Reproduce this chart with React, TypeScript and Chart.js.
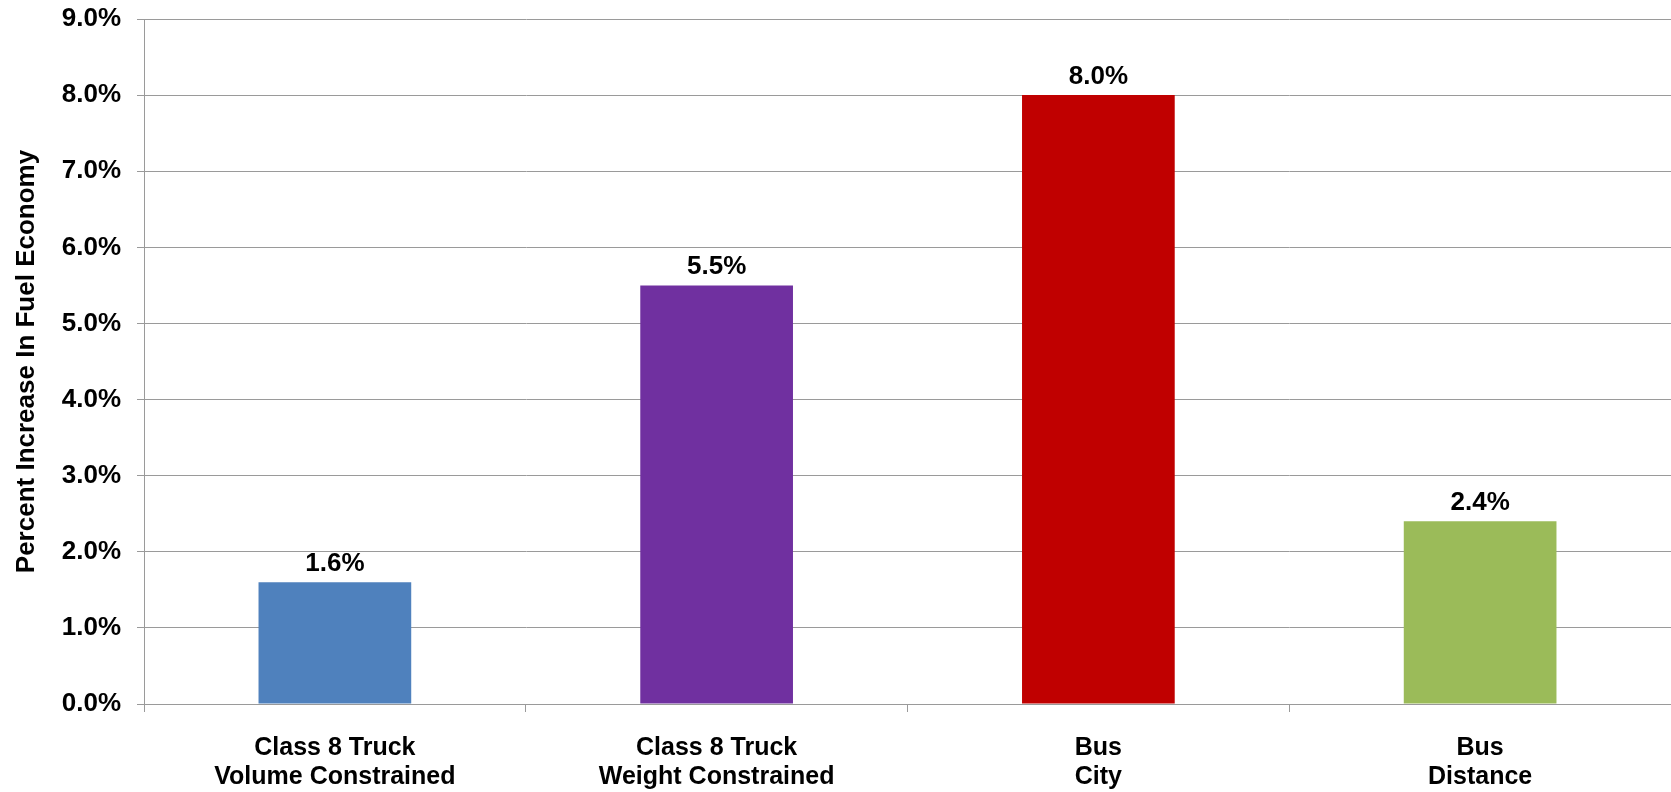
import React, { useEffect, useRef } from "react";
import { Chart, registerables } from "chart.js";

Chart.register(...registerables);

const categories: string[][] = [
  ["Class 8 Truck", "Volume Constrained"],
  ["Class 8 Truck", "Weight Constrained"],
  ["Bus", "City"],
  ["Bus", "Distance"],
];
const values: number[] = [1.6, 5.5, 8.0, 2.4];
const barColors: string[] = ["#4F81BD", "#7030A0", "#C00000", "#9BBB59"];
const yAxisTitle = "Percent Increase In Fuel Economy";
const yMin = 0;
const yMax = 9;
const yStep = 1;

const FONT = "'Liberation Sans', Arial, Helvetica, sans-serif";
const GRID = "#9a9a9a";

const valueLabels = {
  id: "valueLabels",
  afterDatasetsDraw(chart: any) {
    const ctx = chart.ctx;
    const meta = chart.getDatasetMeta(0);
    ctx.save();
    ctx.font = `bold 26px ${FONT}`;
    ctx.fillStyle = "#000";
    ctx.textAlign = "center";
    ctx.textBaseline = "alphabetic";
    meta.data.forEach((bar: any, i: number) => {
      ctx.fillText(values[i].toFixed(1) + "%", bar.x, bar.y - 11);
    });
    ctx.restore();
  },
};

export default function App() {
  const ref = useRef<HTMLCanvasElement>(null);
  useEffect(() => {
    document.body.style.margin = "0";
    const chart = new Chart(ref.current!, {
      type: "bar",
      data: {
        labels: categories,
        datasets: [
          {
            data: values,
            backgroundColor: barColors,
            borderWidth: 0,
            categoryPercentage: 1,
            barPercentage: 0.4,
          },
        ],
      },
      options: {
        responsive: false,
        animation: false,
        devicePixelRatio: 1,
        layout: { padding: { top: 19, right: 0, left: 0, bottom: 0 } },
        plugins: {
          legend: { display: false },
          tooltip: { enabled: false },
        },
        scales: {
          x: {
            offset: true,
            grid: {
              offset: true,
              drawOnChartArea: false,
              drawTicks: true,
              tickLength: 8,
              color: GRID,
            },
            border: { color: GRID, width: 1 },
            ticks: {
              color: "#000",
              padding: 22,
              maxRotation: 0,
              autoSkip: false,
              font: { family: FONT, size: 25, weight: "bold", lineHeight: 1.16 },
            },
            afterFit: (s: any) => {
              s.height = 88;
            },
          },
          y: {
            min: yMin,
            max: yMax,
            ticks: {
              stepSize: yStep,
              color: "#000",
              padding: 16,
              font: { family: FONT, size: 26, weight: "bold" },
              callback: (v: any) => Number(v).toFixed(1) + "%",
            },
            grid: { color: GRID, tickLength: 7, lineWidth: 1 },
            border: { color: GRID, width: 1 },
            title: {
              display: true,
              text: yAxisTitle,
              color: "#000",
              padding: { top: 11, bottom: 0 },
              font: { family: FONT, size: 26, weight: "bold" },
            },
            afterFit: (s: any) => {
              s.width = 144;
              s.paddingTop = 19;
              s.paddingBottom = 0;
            },
          },
        },
      },
      plugins: [valueLabels],
    });
    return () => chart.destroy();
  }, []);
  return (
    <div style={{ position: "absolute", left: 0, top: 0, width: 1671, height: 792, background: "#fff" }}>
      <canvas ref={ref} width={1671} height={792} />
    </div>
  );
}
